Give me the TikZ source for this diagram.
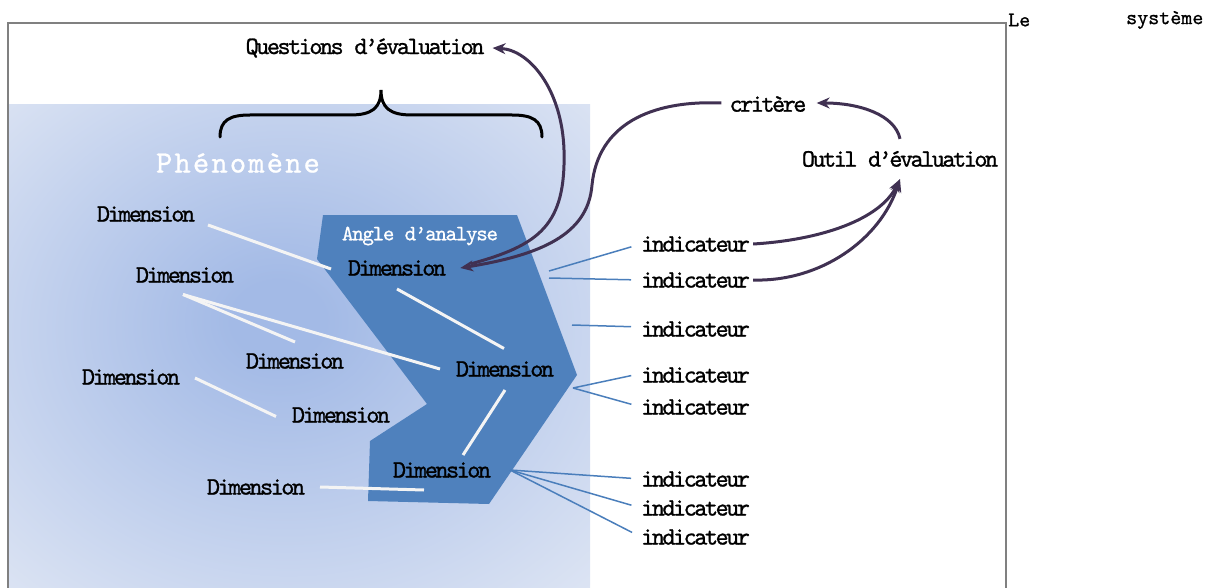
\documentclass[tikz,border=0pt]{standalone}
\usepackage{fontspec}
\newfontfamily\cour[LetterSpace=-10,FakeBold=1]{lmmono10-regular.otf}
\newfontfamily\courang[LetterSpace=-6,FakeBold=0.8]{lmmono10-regular.otf}
\newfontfamily\courplain[FakeBold=0.8]{lmmono10-regular.otf}
\newfontfamily\courwide[LetterSpace=7,FakeBold=0.8]{lmmono10-regular.otf}
\usetikzlibrary{arrows.meta,calc}
\definecolor{framegray}{RGB}{128,128,128}
\definecolor{polyblue}{RGB}{79,129,189}
\definecolor{indblue}{RGB}{74,126,187}
\definecolor{arrpurple}{RGB}{64,49,82}
\definecolor{bginner}{RGB}{163,186,230}
\definecolor{bgouter}{RGB}{223,230,244}
\definecolor{wline}{RGB}{244,244,244}
\pgfdeclareradialshading{phenshade}{\pgfpoint{-2bp}{3bp}}{color(0bp)=(bginner); color(4bp)=(bginner); color(38bp)=(bgouter); color(50bp)=(bgouter)}
\tikzset{
  lbl/.style={font=\cour\fontsize{25}{29}\selectfont, inner sep=0pt, text=black},
  whitelbl/.style={lbl, text=white},
  indlbl/.style={lbl, anchor=west},
  whiteconn/.style={draw=wline, line width=3pt},
  indconn/.style={draw=indblue, line width=1.5pt, shorten >=10pt},
  purplearrow/.style={draw=arrpurple, line width=3pt, -{Stealth[length=13pt,width=11pt]}},
  framestyle/.style={draw=framegray, line width=2pt},
}
\begin{document}
\begin{tikzpicture}[x=1pt,y=-1pt]
\useasboundingbox (0,0) rectangle (1228,588);
% background phenomenon area
\shade[shading=phenshade] (9,105) rectangle (590,588);
% outer frame
\draw[framestyle] (8,588) -- (8,23) -- (1006,23) -- (1006,588);
% angle d'analyse polygon
\fill[polyblue] (323,215) -- (517,215) -- (577,375) -- (489,504) -- (368,501) -- (370,441) -- (427,404) -- (317,259) -- cycle;
% brace
\draw[black, line width=3pt, line cap=round] (220,137) .. controls (220,120) and (230,115) .. (250,115) -- (350,115) .. controls (372,115) and (381,108) .. (381,90) .. controls (381,108) and (390,115) .. (412,115) -- (512,115) .. controls (532,115) and (542,120) .. (542,137);

% labels
\node[lbl] (Q) at (365,48) {Questions d’évaluation};
\node[whitelbl, font=\courwide\fontsize{31}{35}\selectfont] (Ph) at (238,163) {Phénomène};
\node[whitelbl, font=\courang\fontsize{22}{26}\selectfont] (Ang) at (420,236) {Angle d’analyse};
\node[lbl] (C) at (768,104) {critère};
\node[lbl] (O) at (900,159) {Outil d’évaluation};
\node[lbl, font=\courplain\fontsize{21}{24}\selectfont, anchor=west] (Le) at (1008,20) {Le};
\node[lbl, font=\courplain\fontsize{21}{24}\selectfont, anchor=west] (Sys) at (1126,20) {système};

\node[lbl] (D1) at (146,214) {Dimension};
\node[lbl] (D2) at (185,275) {Dimension};
\node[lbl] (D3) at (397,268) {Dimension};
\node[lbl] (D4) at (295,361) {Dimension};
\node[lbl] (D5) at (131,377) {Dimension};
\node[lbl] (D6) at (505,369) {Dimension};
\node[lbl] (D7) at (341,415) {Dimension};
\node[lbl] (D8) at (442,470) {Dimension};
\node[lbl] (D9) at (256,487) {Dimension};

\node[indlbl] (I1) at (641,244) {indicateur};
\node[indlbl] (I2) at (641,280) {indicateur};
\node[indlbl] (I3) at (641,329) {indicateur};
\node[indlbl] (I4) at (641,375) {indicateur};
\node[indlbl] (I5) at (641,407) {indicateur};
\node[indlbl] (I6) at (641,479) {indicateur};
\node[indlbl] (I7) at (641,508) {indicateur};
\node[indlbl] (I8) at (641,537) {indicateur};

% white connectors between dimensions
\draw[whiteconn] ($(D1)+(62,11)$) -- ($(D3)+(-66,1)$);
\draw[whiteconn] ($(D2)+(-2,19.5)$) -- ($(D4)+(0,-19)$);
\draw[whiteconn] ($(D2)+(-2,19.5)$) -- ($(D6)+(-65,0)$);
\draw[whiteconn] ($(D3)+(0,21)$) -- ($(D6)+(-1,-20.5)$);
\draw[whiteconn] ($(D5)+(64,1)$) -- ($(D7)+(-65,1.5)$);
\draw[whiteconn] ($(D6)+(0,21)$) -- ($(D8)+(21,-15)$);
\draw[whiteconn] ($(D9)+(64,0)$) -- ($(D8)+(-18,20)$);

% indicator connectors
\coordinate (p1) at (549,271);
\coordinate (p2) at (549,278);
\coordinate (p3) at (572,325);
\coordinate (p4) at (573,388);
\coordinate (p5) at (510,470);
\draw[indconn] (p1) -- (I1.west);
\draw[indconn] (p2) -- (I2.west);
\draw[indconn] (p3) -- ($(I3.west)+(0,-2)$);
\draw[indconn] (p4) -- ($(I4.west)+(0,-1.5)$);
\draw[indconn] (p4) -- (I5.west);
\draw[indconn] (p5) -- (I6.west);
\draw[indconn] (p5) -- (I7.west);
\draw[indconn] (p5) -- (I8.west);

% purple arrows
\draw[purplearrow] ($(D3.east)+(24,-4)$) .. controls (540,245) and (566,225) .. (564,150) .. controls (562,90) and (530,50) .. ($(Q.east)+(8,0)$);
\draw[purplearrow] ($(C.west)+(-8,-1)$) .. controls (650,100) and (598,125) .. (592,185) .. controls (588,235) and (540,255) .. ($(D3.east)+(14,0)$);
\draw[purplearrow] ($(O.north)+(0,-12)$) .. controls (895,115) and (860,103) .. ($(C.east)+(10,-1)$);
\draw[purplearrow] ($(I1.east)+(3,0)$) .. controls (820,240) and (880,220) .. ($(O.south)+(0,12)$);
\draw[purplearrow] ($(I2.east)+(3,0)$) .. controls (820,282) and (880,240) .. ($(O.south)+(0,12)$);
\end{tikzpicture}
\end{document}
